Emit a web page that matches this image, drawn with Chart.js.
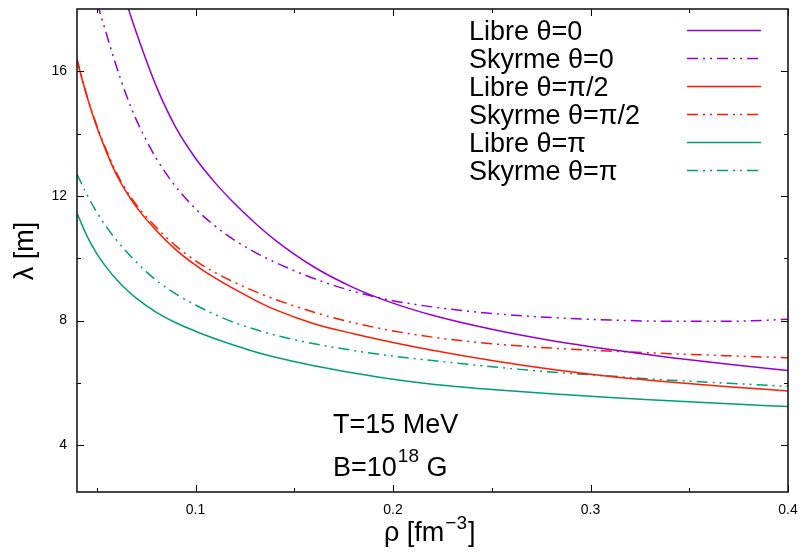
<!DOCTYPE html>
<html>
<head>
<meta charset="utf-8">
<script src="https://cdn.jsdelivr.net/npm/chart.js@4/dist/chart.umd.min.js"></script>
<style>
html,body{margin:0;padding:0;background:#fff;}
#wrap{width:801px;height:554px;}
</style>
</head>
<body>
<div id="wrap"><canvas id="c" width="801" height="554"></canvas></div>
<script>
// ---- data ----
const rho = [0.04,0.045,0.05,0.055,0.06,0.065,0.07,0.08,0.09,0.10,0.11,0.12,0.13,0.14,0.16,0.18,0.20,0.22,0.25,0.28,0.31,0.34,0.37,0.40];
const libreTheta0    = [26.0,24.0,22.2,20.55,19.3,18.22,17.25,15.54,14.2,13.21,12.42,11.74,11.14,10.6,9.72,9.06,8.56,8.17,7.72,7.36,7.07,6.82,6.6,6.4];
const skyrmeTheta0   = [21.0,19.5,18.25,17.18,16.15,15.23,14.45,13.22,12.3,11.59,11.03,10.57,10.2,9.88,9.35,8.94,8.64,8.44,8.23,8.1,8.02,7.98,7.98,8.04];
const libreThetaHalf = [16.35,15.2,14.22,13.4,12.68,12.12,11.65,10.9,10.28,9.78,9.36,9.0,8.66,8.36,7.9,7.58,7.3,7.05,6.72,6.44,6.21,6.03,5.88,5.74];
const skyrmeThetaHalf= [16.4,15.22,14.26,13.45,12.74,12.18,11.72,11.0,10.4,9.92,9.54,9.22,8.94,8.69,8.27,7.93,7.67,7.47,7.26,7.12,7.02,6.94,6.87,6.81];
const librePi        = [11.45,10.72,10.15,9.7,9.32,9.0,8.72,8.27,7.93,7.66,7.42,7.2,7.0,6.83,6.55,6.32,6.12,5.96,5.79,5.65,5.53,5.43,5.33,5.24];
const skyrmePi       = [12.7,12.05,11.48,11.0,10.58,10.22,9.88,9.3,8.86,8.5,8.19,7.93,7.72,7.54,7.26,7.04,6.86,6.72,6.52,6.35,6.22,6.09,5.99,5.89];

const seriesLabels = ['Libre θ=0','Skyrme θ=0','Libre θ=π/2','Skyrme θ=π/2','Libre θ=π','Skyrme θ=π'];
const xTickValues = [0.05,0.1,0.15,0.2,0.25,0.3,0.35,0.4];
const xTickLabels = ['','0.1','','0.2','','0.3','','0.4'];
const yTickValues = [4,6,8,10,12,14,16];
const yTickLabels = ['4','','8','','12','','16'];

// ---- styling ----
const FONT = '"Liberation Sans", Arial, Helvetica, sans-serif';
const PURPLE = '#9400d3', RED = '#ff1a00', GREEN = '#009e73';
const DASH = [11,5,2,5,2,5];
const BIG = '27px ' + FONT, SUP = '19px ' + FONT;

function pts(arr){ return rho.map((r,i)=>({x:r,y:arr[i]})); }
function ds(label, arr, color, dashed){
  return {label, data:pts(arr), borderColor:color, backgroundColor:color, borderWidth:1.5,
    borderDash: dashed?DASH:[], pointRadius:0, fill:false, cubicInterpolationMode:'monotone'};
}
const seriesData = [libreTheta0, skyrmeTheta0, libreThetaHalf, skyrmeThetaHalf, librePi, skyrmePi];
const seriesColors = [PURPLE, PURPLE, RED, RED, GREEN, GREEN];

const gnuplotDeco = {
  id:'gnuplotDeco',
  afterDraw(chart){
    const ctx = chart.ctx, a = chart.chartArea, xs = chart.scales.x, ys = chart.scales.y;
    ctx.save();
    // inward tick marks on all four sides
    ctx.strokeStyle = '#000'; ctx.lineWidth = 1;
    ctx.beginPath();
    xTickValues.forEach((v,i)=>{
      const px = Math.round(xs.getPixelForValue(v)) + 0.5;
      const len = xTickLabels[i] ? 7 : 4;
      ctx.moveTo(px, a.bottom); ctx.lineTo(px, a.bottom - len);
      ctx.moveTo(px, a.top); ctx.lineTo(px, a.top + len);
    });
    yTickValues.forEach((v,i)=>{
      const py = Math.round(ys.getPixelForValue(v)) + 0.5;
      const len = yTickLabels[i] ? 7 : 4;
      ctx.moveTo(a.left, py); ctx.lineTo(a.left + len, py);
      ctx.moveTo(a.right, py); ctx.lineTo(a.right - len, py);
    });
    ctx.stroke();
    // frame
    ctx.strokeStyle = '#1a1a1a'; ctx.lineWidth = 1.6;
    ctx.strokeRect(a.left, a.top, a.right - a.left, a.bottom - a.top);

    // legend (gnuplot style: text left, sample right)
    ctx.fillStyle = '#000';
    ctx.font = BIG;
    ctx.textBaseline = 'alphabetic'; ctx.textAlign = 'left';
    chart.data.datasets.forEach((d,i)=>{
      const y = 30 + i*28;
      ctx.fillText(d.label, 469, y + 9.5);
      ctx.save();
      ctx.strokeStyle = d.borderColor; ctx.lineWidth = 1.5;
      ctx.setLineDash(d.borderDash || []);
      ctx.beginPath(); ctx.moveTo(687, y + 0.5); ctx.lineTo(761, y + 0.5); ctx.stroke();
      ctx.restore();
    });

    // annotations
    ctx.fillStyle = '#000';
    ctx.font = BIG;
    ctx.fillText('T=15 MeV', 333, 433);
    let x = 333;
    ctx.fillText('B=10', x, 476); x += ctx.measureText('B=10').width;
    ctx.font = SUP;
    ctx.fillText('18', x + 1, 462); x += ctx.measureText('18').width + 1;
    ctx.font = BIG;
    ctx.fillText(' G', x, 476);

    // x axis title
    x = 384;
    ctx.fillText('ρ [fm', x, 541); x += ctx.measureText('ρ [fm').width;
    ctx.font = SUP;
    ctx.fillText('−3', x + 1, 529); x += ctx.measureText('−3').width + 2;
    ctx.font = BIG;
    ctx.fillText(']', x, 541);

    // y axis title
    ctx.save();
    ctx.translate(33, 251);
    ctx.rotate(-Math.PI/2);
    ctx.textAlign = 'center';
    ctx.fillText('λ [m]', 0, 0);
    ctx.restore();

    ctx.restore();
  }
};

new Chart(document.getElementById('c'), {
  type:'line',
  data:{ datasets: seriesLabels.map((l,i)=>ds(l, seriesData[i], seriesColors[i], i%2===1)) },
  options:{
    responsive:false, animation:false, devicePixelRatio:1,
    layout:{ padding:{ top:9, right:13, left:0, bottom:0 } },
    plugins:{ legend:{display:false}, tooltip:{enabled:false} },
    scales:{
      x:{ type:'linear', min:0.04, max:0.4,
        afterBuildTicks(s){ s.ticks = xTickValues.map(v=>({value:v})); },
        afterFit(s){ s.height = 62; s.paddingLeft = 0; s.paddingRight = 0; },
        grid:{ display:false, drawTicks:false },
        border:{ display:false },
        ticks:{ padding:10, color:'#000', font:{ family:FONT, size:14 }, maxRotation:0, autoSkip:false,
          callback:(v,i)=>xTickLabels[i] }
      },
      y:{ type:'linear', min:2.5, max:18,
        afterBuildTicks(s){ s.ticks = yTickValues.map(v=>({value:v})); },
        afterFit(s){ s.width = 77; s.paddingTop = 0; s.paddingBottom = 0; },
        grid:{ display:false, drawTicks:false },
        border:{ display:false },
        ticks:{ padding:10, color:'#000', font:{ family:FONT, size:14 }, autoSkip:false,
          callback:(v,i)=>yTickLabels[i] }
      }
    }
  },
  plugins:[gnuplotDeco]
});
</script>
</body>
</html>
